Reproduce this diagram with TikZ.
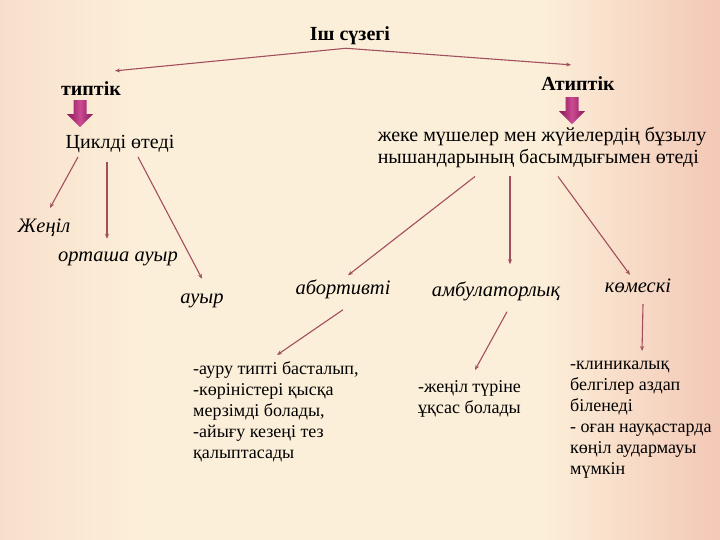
\documentclass[tikz,border=0pt]{standalone}
\usepackage{fontspec}
\setmainfont{Liberation Serif}
\usetikzlibrary{arrows.meta}

\definecolor{bgcream}{HTML}{FCEFD9}
\definecolor{bgleft}{HTML}{F8DFCB}
\definecolor{bgpink}{HTML}{F3C8B6}
\definecolor{linkred}{HTML}{A24E5E}
\definecolor{fatlight}{HTML}{CC4A92}
\definecolor{fatdark}{HTML}{861656}

\tikzset{
  sharp/.tip={Stealth[length=5pt,width=4pt]},
  link/.style={linkred, line width=1.1pt, -sharp},
  headtxt/.style={font=\fontsize{20}{23}\selectfont\bfseries, inner sep=1pt},
  plaintxt/.style={font=\fontsize{20}{22}\selectfont, inner sep=1pt, align=left},
  kindtxt/.style={font=\fontsize{20.5}{23}\selectfont\itshape, inner sep=1pt},
  notetxt/.style={font=\fontsize{18}{21}\selectfont, inner sep=0pt, align=left, anchor=north west},
  fatarrow/.pic={
    \shade[left color=fatdark, right color=fatdark, middle color=fatlight]
      (-6.5,0) -- (6.5,0) -- (6.5,14) -- (13,14) -- (0,27) -- (-13,14) -- (-6.5,14) -- cycle;
  }
}

\begin{document}
\begin{tikzpicture}[x=1pt,y=-1pt]
  \useasboundingbox (0,0) rectangle (720,540);
  % background
  \fill[bgcream] (0,0) rectangle (720,540);
  \shade[left color=bgleft, right color=bgcream] (0,0) rectangle (140,540);
  \shade[left color=bgcream, right color=bgpink] (540,0) rectangle (720,540);

  % title and the two kinds
  \node[headtxt] (top) at (350,36) {Іш сүзегі};
  \node[headtxt] (typ) at (91,89) {типтік};
  \node[headtxt] (atyp) at (578,84) {Атиптік};

  \node[plaintxt] (cyc) at (120,144) {Циклді өтеді};
  \node[plaintxt] (organ) at (542,147) {жеке мүшелер мен жүйелердің бұзылу\\нышандарының басымдығымен өтеді};

  % forms
  \node[kindtxt] (mild) at (44,228) {Жеңіл};
  \node[kindtxt] (mid) at (118,259) {орташа ауыр};
  \node[kindtxt] (sev) at (202,301) {ауыр};
  \node[kindtxt] (abort) at (343,289) {абортивті};
  \node[kindtxt] (amb) at (496,291) {амбулаторлық};
  \node[kindtxt] (lat) at (638,286) {көмескі};

  % notes
  \node[notetxt] (abortnote) at (193,361) {-ауру типті басталып,\\-көріністері қысқа\\мерзімді болады,\\-айығу кезеңі тез\\қалыптасады};
  \node[notetxt] (ambnote) at (418,380) {-жеңіл түріне\\ұқсас болады};
  \node[notetxt] (latnote) at (570,361) {-клиникалық\\белгілер аздап\\біленеді\\- оған науқастарда\\көңіл аудармауы\\мүмкін};

  % connectors
  \draw[link, sharp-sharp] ([xshift=24pt,yshift=10pt]typ.north) -- ([xshift=-4pt,yshift=-2pt]top.south)
    -- ([xshift=-7pt,yshift=11pt]atyp.north);
  \pic at ([xshift=-11pt,yshift=-3pt]typ.south) {fatarrow};
  \pic at ([xshift=-6pt,yshift=-5pt]atyp.south) {fatarrow};

  \draw[link] ([xshift=-42pt,yshift=-3pt]cyc.south) -- ([xshift=6pt,yshift=10pt]mild.north);
  \draw[link] ([xshift=-13pt,yshift=-8pt]cyc.south) -- ([xshift=-11pt,yshift=12pt]mid.north);
  \draw[link] ([xshift=18pt,yshift=-3pt]cyc.south) -- ([yshift=14pt]sev.north);

  \draw[link] ([xshift=-67pt,yshift=-8pt]organ.south) -- ([xshift=5pt,yshift=3pt]abort.north);
  \draw[link] ([xshift=-32pt,yshift=-8pt]organ.south) -- ([xshift=14pt,yshift=16pt]amb.north);
  \draw[link] ([xshift=16pt,yshift=-8pt]organ.south) -- ([xshift=-8pt,yshift=3pt]lat.north);

  \draw[link] ([yshift=-10pt]abort.south) -- ([xshift=84pt,yshift=6pt]abortnote.north west);
  \draw[link] ([xshift=11pt,yshift=-10pt]amb.south) -- ([xshift=57pt,yshift=10pt]ambnote.north west);
  \draw[link] ([xshift=5pt,yshift=-10pt]lat.south) -- ([xshift=72pt,yshift=10pt]latnote.north west);
\end{tikzpicture}
\end{document}
